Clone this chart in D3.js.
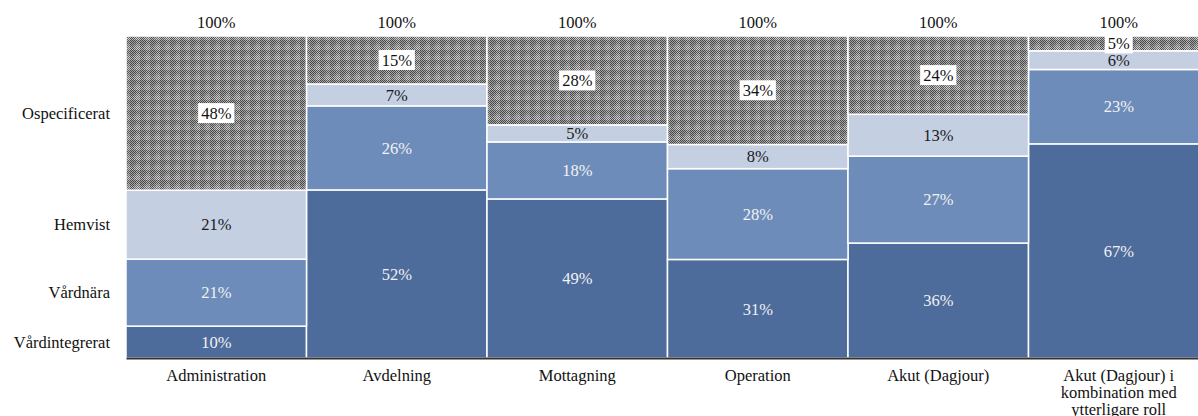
<!DOCTYPE html>
<html>
<head>
<meta charset="utf-8">
<script src="https://cdn.jsdelivr.net/npm/d3@7"></script>
<style>
  html, body { margin: 0; padding: 0; background: #fff; overflow: hidden; }
  svg { display: block; }
  text { font-family: "Liberation Serif", "Times New Roman", serif; }
</style>
</head>
<body>
<svg id="chart" width="1198" height="416"></svg>
<script>
// Role distribution per unit type (percent of each column)
const categories = [
  "Administration",
  "Avdelning",
  "Mottagning",
  "Operation",
  "Akut (Dagjour)",
  "Akut (Dagjour) i kombination med ytterligare roll"
];
const seriesNames = ["Vårdintegrerat", "Vårdnära", "Hemvist", "Ospecificerat"];
const vardintegrerat = [9.9, 52.2, 49.4, 30.6, 35.7, 66.5];
const vardnara       = [20.8, 26.1, 17.7, 28.2, 27.0, 23.1];
const hemvist        = [21.4, 6.8, 5.3, 7.5, 13.0, 5.8];
const ospecificerat  = [47.9, 14.9, 27.6, 33.7, 24.3, 4.6];
const totalLabel = "100%";

const seriesValues = [vardintegrerat, vardnara, hemvist, ospecificerat];
const rows = categories.map((c, i) => {
  const r = { category: c };
  seriesNames.forEach((s, k) => { r[s] = seriesValues[k][i]; });
  return r;
});

const svg = d3.select("#chart");
const plotLeft = 126, plotTop = 36, plotBottom = 358, colWidth = 180.5;
const fontSize = 16.5;

const x = d3.scaleBand()
  .domain(categories)
  .range([plotLeft, plotLeft + colWidth * categories.length])
  .padding(0);
const y = d3.scaleLinear().domain([0, 100]).range([plotBottom, plotTop]);

// Plaid-like grey checker fill for the unspecified share
const defs = svg.append("defs");
const pat = defs.append("pattern")
  .attr("id", "plaid")
  .attr("patternUnits", "userSpaceOnUse")
  .attr("width", 10).attr("height", 10);
pat.append("rect").attr("width", 10).attr("height", 10).attr("fill", "#8c8c8c");
for (let i = 0; i < 10; i++) {
  for (let j = 0; j < 10; j++) {
    let c = null;
    if ((i + j) % 2 === 0) c = (i < 4 || j < 4) ? "#4a4a4a" : "#6a6a6a";
    else if (i >= 6 && j >= 6) c = "#d0d0d0";
    else if (i >= 6 || j >= 6) c = "#bdbdbd";
    else c = "#a0a0a0";
    pat.append("rect").attr("x", i).attr("y", j).attr("width", 1).attr("height", 1)
      .attr("fill", c);
  }
}

const fills = {
  "Vårdintegrerat": "#4d6b9b",
  "Vårdnära": "#6d8cba",
  "Hemvist": "#c4cfe2",
  "Ospecificerat": "url(#plaid)"
};
const textColors = {
  "Vårdintegrerat": "#f2f2f2",
  "Vårdnära": "#f2f2f2",
  "Hemvist": "#1a1a1a",
  "Ospecificerat": "#111"
};

const stack = d3.stack().keys(seriesNames)(rows);

const layers = svg.append("g").selectAll("g")
  .data(stack)
  .join("g");

layers.selectAll("rect")
  .data(d => d.map(p => ({ key: d.key, p })))
  .join("rect")
  .attr("x", d => x(d.p.data.category))
  .attr("y", d => y(d.p[1]))
  .attr("width", x.bandwidth())
  .attr("height", d => y(d.p[0]) - y(d.p[1]))
  .attr("fill", d => fills[d.key])
  .attr("stroke", "#fff")
  .attr("stroke-width", 1.5);

// Value labels centred in each segment
const labelG = svg.append("g");
stack.forEach(layer => {
  layer.forEach(p => {
    const cx = x(p.data.category) + x.bandwidth() / 2;
    const cy = (y(p[0]) + y(p[1])) / 2;
    const txt = Math.round(p[1] - p[0]) + "%";
    const t = labelG.append("text")
      .attr("x", cx).attr("y", cy)
      .attr("dy", "0.35em")
      .attr("text-anchor", "middle")
      .attr("font-size", fontSize)
      .attr("fill", textColors[layer.key])
      .text(txt);
    if (layer.key === "Ospecificerat") {
      const w = t.node().getComputedTextLength() + 6;
      labelG.insert("rect", () => t.node())
        .attr("x", cx - w / 2).attr("y", cy - 10)
        .attr("width", w).attr("height", 20)
        .attr("fill", "#fff");
    }
  });
});

// Totals above each column
svg.append("g").selectAll("text")
  .data(categories)
  .join("text")
  .attr("x", d => x(d) + x.bandwidth() / 2)
  .attr("y", 22)
  .attr("dy", "0.35em")
  .attr("text-anchor", "middle")
  .attr("font-size", fontSize)
  .attr("fill", "#111")
  .text(totalLabel);

// Series names beside the first column
const first = stack.map(layer => layer[0]);
svg.append("g").selectAll("text")
  .data(first.map((p, k) => ({ name: seriesNames[k], p })))
  .join("text")
  .attr("x", 110)
  .attr("y", d => (y(d.p[0]) + y(d.p[1])) / 2)
  .attr("dy", "0.35em")
  .attr("text-anchor", "end")
  .attr("font-size", fontSize)
  .attr("fill", "#111")
  .text(d => d.name);

// Category axis
const axis = svg.append("g")
  .attr("transform", `translate(0,${plotBottom})`)
  .call(d3.axisBottom(x).tickSize(0).tickFormat(""));
axis.select(".domain").attr("stroke", "#333").attr("stroke-width", 2);

const wrapWidth = 130;
const catG = svg.append("g");
categories.forEach(c => {
  const cx = x(c) + x.bandwidth() / 2;
  const t = catG.append("text")
    .attr("x", cx).attr("y", 375)
    .attr("text-anchor", "middle")
    .attr("font-size", fontSize)
    .attr("fill", "#111");
  const words = c.split(" ");
  let line = [], lines = [];
  const probe = t.append("tspan");
  words.forEach(w => {
    line.push(w);
    probe.text(line.join(" "));
    if (probe.node().getComputedTextLength() > wrapWidth && line.length > 1) {
      line.pop();
      lines.push(line.join(" "));
      line = [w];
    }
  });
  lines.push(line.join(" "));
  probe.remove();
  lines.forEach((l, i) => {
    t.append("tspan")
      .attr("x", cx)
      .attr("y", 375 + i * 17)
      .attr("dy", "0.35em")
      .text(l);
  });
});
</script>
</body>
</html>
